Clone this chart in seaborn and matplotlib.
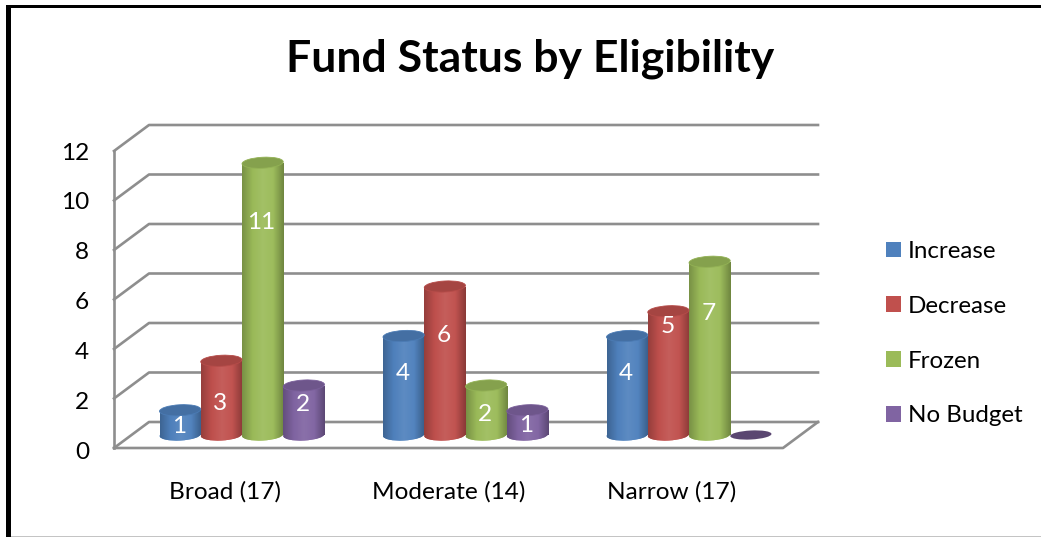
import matplotlib
matplotlib.use("Agg")
import matplotlib.pyplot as plt
import numpy as np
import pandas as pd
import seaborn as sns
from matplotlib.colors import LinearSegmentedColormap, to_rgb
from matplotlib.patches import Ellipse, Rectangle
from matplotlib.transforms import IdentityTransform

groups = ["Broad (17)", "Moderate (14)", "Narrow (17)"]
statuses = ["Increase", "Decrease", "Frozen", "No Budget"]
increase = [1, 4, 4]
decrease = [3, 6, 5]
frozen = [11, 2, 7]
no_budget = [2, 1, 0]
colors = ["#4F81BD", "#C0504D", "#9BBB59", "#8064A2"]
y_ticks = [0, 2, 4, 6, 8, 10, 12]

# where the white value labels sit on each bar, in axis units
label_heights = [
    [0.36, 1.27, 8.57, 1.22],
    [2.47, 4.02, 0.82, 0.4],
    [2.47, 4.37, 4.92, None],
]

W, H = 1041, 537
# pixel layout of the fake 3d box
PX_PER_X = 223.5
PX_PER_Y = 24.75
X0_PX = 242
Y0_PX = 435
LEFT, RIGHT, TOP, BOTTOM = 114, 818, 125, 455
DEPTH_X = 35 / PX_PER_X
DEPTH_Y = 13 / PX_PER_Y
FONT = 17.6

sns.set_theme(style="white")
plt.rcParams["font.family"] = ["Lato", "DejaVu Sans"]

df = pd.DataFrame({"group": groups, "Increase": increase, "Decrease": decrease,
                   "Frozen": frozen, "No Budget": no_budget})
long_df = df.melt(id_vars="group", value_vars=statuses, var_name="status", value_name="count")

fig = plt.figure(figsize=(W / 100, H / 100), dpi=100, facecolor="white")
ax = fig.add_axes([LEFT / W, 1 - BOTTOM / H, (RIGHT - LEFT) / W, (BOTTOM - TOP) / H])
ax.patch.set_alpha(0)

sns.barplot(data=long_df, x="group", y="count", hue="status", order=groups, hue_order=statuses,
            palette=colors, width=165 / PX_PER_X, gap=0, saturation=1, linewidth=0, zorder=3, ax=ax)

xlim = ((LEFT - X0_PX) / PX_PER_X, (RIGHT - X0_PX) / PX_PER_X)
ylim = ((Y0_PX - BOTTOM) / PX_PER_Y, (Y0_PX - TOP) / PX_PER_Y)
ax.set_xlim(*xlim)
ax.set_ylim(*ylim)
sns.despine(ax=ax, left=True, bottom=True)
ax.set_xlabel("")
ax.set_ylabel("")
ax.set_xticks([])
ax.set_yticks([])

# walls
wall = dict(color="#8E8E8E", lw=1.9, zorder=1, solid_capstyle="projecting", clip_on=False)
front_l, back_l = xlim[0], xlim[0] + DEPTH_X
back_r, front_r = xlim[1], xlim[1] - DEPTH_X
for t in y_ticks:
    ax.plot([front_l, back_l, back_r], [t - DEPTH_Y, t + DEPTH_Y, t + DEPTH_Y], **wall)
ax.plot([front_l, front_l], [y_ticks[0] - DEPTH_Y, y_ticks[-1] - DEPTH_Y], **wall)
ax.plot([front_l, front_r, back_r], [-DEPTH_Y, -DEPTH_Y, DEPTH_Y], **wall)

# axis labels go on secondary axes so they line up with the front plane
sec_y = ax.secondary_yaxis("left", functions=(lambda v: (v + DEPTH_Y + 0.12) / 1.01,
                                              lambda v: 1.01 * v - DEPTH_Y - 0.12))
sec_y.set_yticks(y_ticks)
sec_y.tick_params(length=0, pad=18, labelsize=FONT, labelcolor="black")
sec_y.spines["left"].set_visible(False)

shift = 17 / PX_PER_X
sec_x = ax.secondary_xaxis("bottom", functions=(lambda v: v + shift, lambda v: v - shift))
sec_x.set_xticks(range(len(groups)))
sec_x.set_xticklabels(groups)
sec_x.tick_params(length=0, pad=18.7, labelsize=FONT, labelcolor="black")
sec_x.spines["bottom"].set_visible(False)


def shade(base, amount):
    rgb = np.array(to_rgb(base))
    if amount < 0:
        return tuple(rgb * (1 + amount))
    return tuple(rgb + (1 - rgb) * amount)


for i, (container, color) in enumerate(zip(ax.containers, colors)):
    cmap = LinearSegmentedColormap.from_list(
        "cyl", [shade(color, -0.22), shade(color, -0.01), shade(color, 0.08),
                shade(color, 0.02), shade(color, -0.28)])
    grad = np.linspace(0, 1, 64).reshape(1, -1)
    for j, bar in enumerate(container):
        x0 = bar.get_x()
        bw = bar.get_width()
        h = bar.get_height()
        cx_px, base_px = ax.transData.transform((x0 + bw / 2, 0))
        _, top_px = ax.transData.transform((0, h))
        w_px = bw * PX_PER_X
        if h == 0:
            ax.add_patch(Ellipse((cx_px, base_px), w_px, 9, angle=3, transform=IdentityTransform(),
                                 facecolor=shade(color, -0.3), edgecolor="none", zorder=5))
            continue
        base = Ellipse((cx_px, base_px), w_px, 11, angle=3, transform=IdentityTransform(),
                       facecolor=color, edgecolor="none", zorder=3)
        ax.add_patch(base)
        extent = (x0, x0 + bw, -1, h)
        for clip in (bar, base):
            im = ax.imshow(grad, extent=extent, cmap=cmap, aspect="auto", zorder=3.5,
                           interpolation="bilinear")
            im.set_clip_path(clip)
        ax.add_patch(Ellipse((cx_px, top_px), w_px, 11, angle=3, transform=IdentityTransform(),
                             facecolor=shade(color, -0.14), edgecolor=shade(color, -0.05),
                             lw=0.6, zorder=4))
        label_y = label_heights[j][i]
        if label_y is not None:
            ax.text(x0 + bw / 2 - 1 / PX_PER_X, label_y, str(int(h)), color="white", fontsize=FONT,
                    ha="center", va="center", zorder=6)

ax.set_xlim(*xlim)
ax.set_ylim(*ylim)

handles, labels = ax.get_legend_handles_labels()
ax.legend(handles, labels, loc="upper left", bbox_to_anchor=(886 / W, 1 - 241 / H),
          bbox_transform=fig.transFigure, frameon=False, fontsize=17.4, handlelength=0.62,
          handleheight=0.62, handletextpad=0.28, labelspacing=1.4, borderpad=0, borderaxespad=0,
          labelcolor="black")

fig.text(530 / W, 1 - 59 / H, "Fund Status by Eligibility", fontsize=32, fontweight="bold",
         color="black", ha="center", va="center")

# outer frame of the pasted chart
fig.add_artist(Rectangle((6 / W, 0), 5 / W, 1 - 5 / H, transform=fig.transFigure, color="black", lw=0))
fig.add_artist(Rectangle((6 / W, 1 - 8 / H), 1 - 6 / W, 3 / H, transform=fig.transFigure, color="black", lw=0))
fig.add_artist(Rectangle((11 / W, 0), 1 - 11 / W, 1.5 / H, transform=fig.transFigure, color="#C4C4C4", lw=0))

fig.savefig("out.png", dpi=100)
